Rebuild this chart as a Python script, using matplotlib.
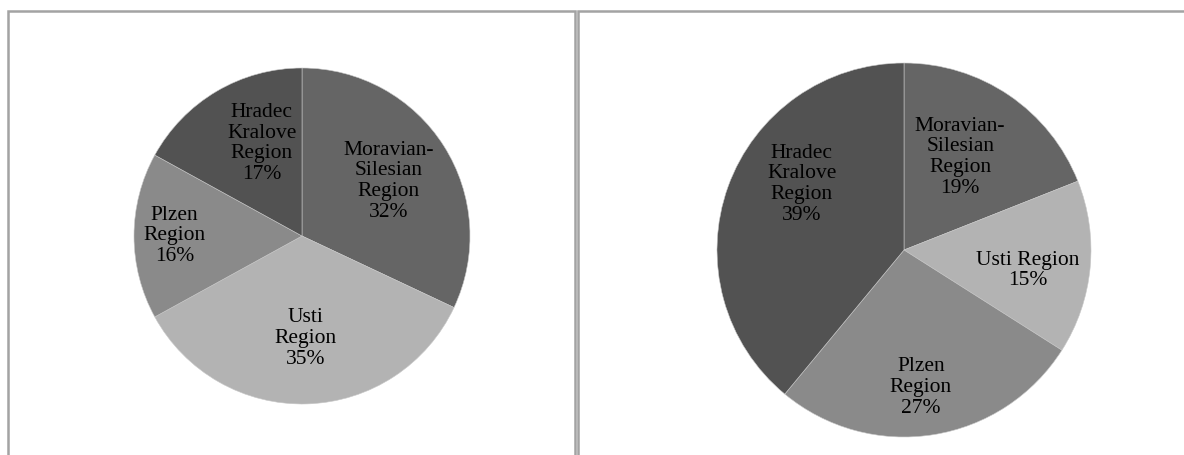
import matplotlib
matplotlib.use("Agg")
import matplotlib.pyplot as plt
from matplotlib.patches import Rectangle
import numpy as np

W, H = 1184, 455

# two regional breakdowns, in percent (clockwise from 12 o'clock)
left_names = ["Moravian-\nSilesian\nRegion", "Usti\nRegion", "Plzen\nRegion", "Hradec\nKralove\nRegion"]
left_values = [32, 35, 16, 17]

right_names = ["Moravian-\nSilesian\nRegion", "Usti Region", "Plzen\nRegion", "Hradec\nKralove\nRegion"]
right_values = [19, 15, 27, 39]

colors = ["#656565", "#b3b3b3", "#8a8a8a", "#525252"]

plt.rcParams["font.family"] = ["Liberation Serif", "DejaVu Serif"]

fig = plt.figure(figsize=(W / 100, H / 100), dpi=100)


def px_axes(cx, cy, r):
    # square axes centred on (cx, cy) in pixel coords measured from top-left
    return fig.add_axes([(cx - r) / W, (H - cy - r) / H, 2 * r / W, 2 * r / H])


def draw_pie(ax, names, values, lbl_r, lbl_dang):
    wedges, _ = ax.pie(values, colors=colors, startangle=90, counterclock=False,
                       wedgeprops=dict(edgecolor="#c8c8c8", linewidth=0.4))
    for w, name, v, r, da in zip(wedges, names, values, lbl_r, lbl_dang):
        ang = np.deg2rad((w.theta1 + w.theta2) / 2 + da)
        ax.text(r * np.cos(ang), r * np.sin(ang), f"{name}\n{v}%",
                ha="center", va="center", fontsize=15.5, linespacing=1.12,
                color="black")
    ax.set_xlim(-1.0, 1.0)
    ax.set_ylim(-1.0, 1.0)
    ax.set_aspect("equal")
    ax.axis("off")


# panel frames
border = "#a3a3a3"
fig.patches.append(Rectangle((8 / W, -0.05), 567 / W, (H - 11) / H + 0.05,
                             transform=fig.transFigure, fill=False,
                             edgecolor=border, linewidth=1.8))
fig.patches.append(Rectangle((578 / W, -0.05), 700 / W, (H - 11) / H + 0.05,
                             transform=fig.transFigure, fill=False,
                             edgecolor=border, linewidth=1.8))

ax1 = px_axes(302, 236, 168)
draw_pie(ax1, left_names, left_values, [0.61, 0.61, 0.76, 0.60], [0, 0, 0, -7])

ax2 = px_axes(904, 250, 187)
draw_pie(ax2, right_names, right_values, [0.58, 0.67, 0.74, 0.65], [3, -4, -2, -13])

fig.savefig("out.png", dpi=100, facecolor="white")
